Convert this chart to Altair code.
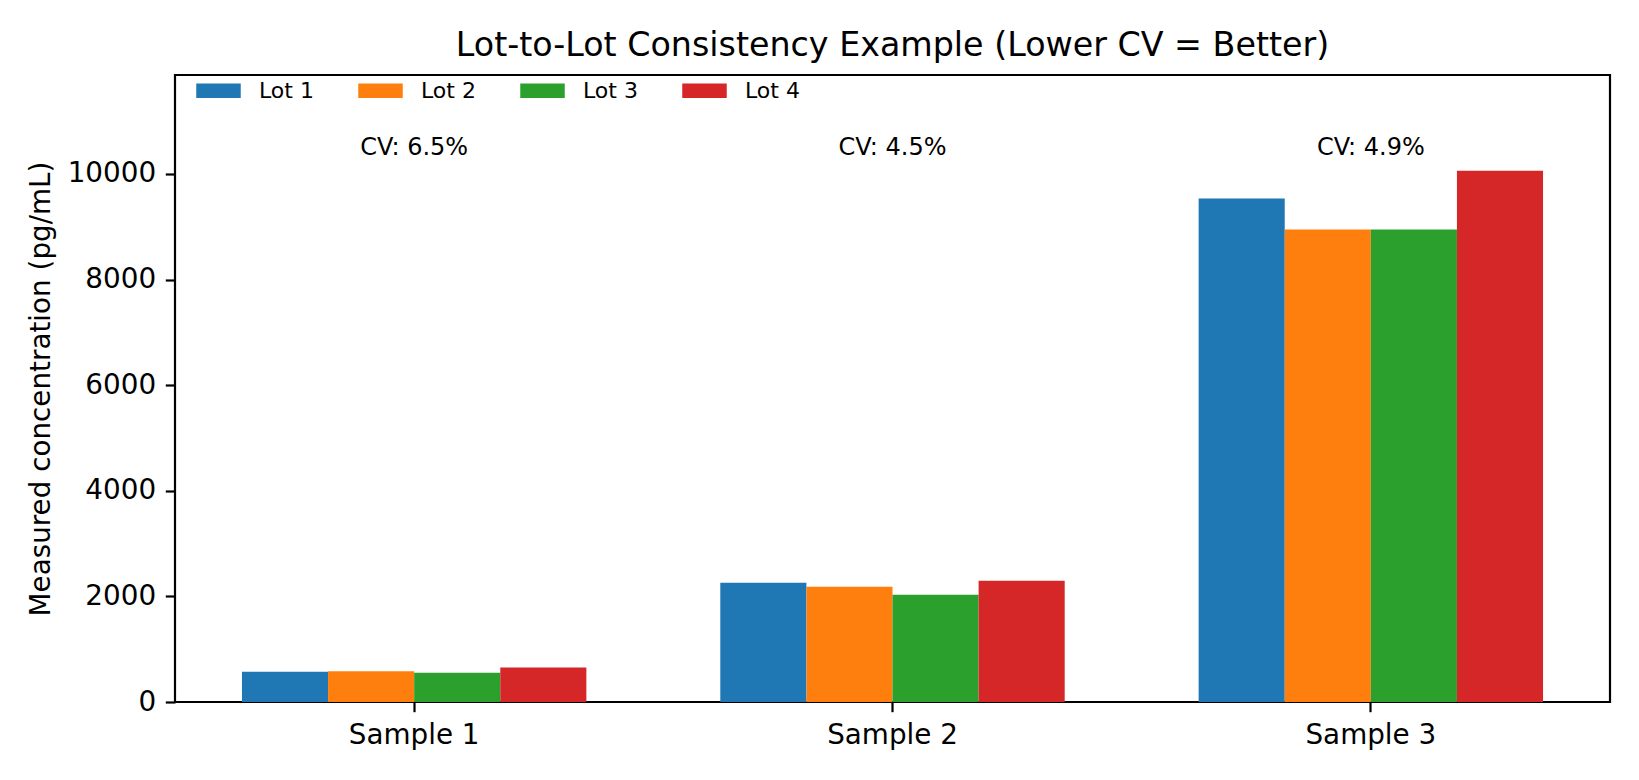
import altair as alt
import pandas as pd

samples = ["Sample 1", "Sample 2", "Sample 3"]
lots = ["Lot 1", "Lot 2", "Lot 3", "Lot 4"]
lot1 = [571, 2258, 9533]
lot2 = [582, 2183, 8947]
lot3 = [552, 2031, 8947]
lot4 = [652, 2296, 10062]
cv_labels = ["CV: 6.5%", "CV: 4.5%", "CV: 4.9%"]
colors = ["#1f77b4", "#ff7f0e", "#2ca02c", "#d62728"]

rows = []
for lot, vals in zip(lots, [lot1, lot2, lot3, lot4]):
    for s, v in zip(samples, vals):
        rows.append({"Sample": s, "Lot": lot, "Value": v})
df = pd.DataFrame(rows)
cv_df = pd.DataFrame({"Sample": samples, "CV": cv_labels})

all_vals = lot1 + lot2 + lot3 + lot4
ymax = max(all_vals)
FONT = "DejaVu Sans"

x_enc = alt.X(
    "Sample:N",
    sort=samples,
    title=None,
    scale=alt.Scale(paddingInner=0.28, paddingOuter=0.14),
    axis=alt.Axis(labelAngle=0, labelFontSize=27.8, labelColor="black", labelFont=FONT,
                  tickColor="black", tickWidth=2.2, tickSize=9.7, labelPadding=9.7,
                  domain=False, grid=False),
)
y_scale = alt.Scale(domain=[0, ymax * 1.18], nice=False, zero=True)

bars = alt.Chart(df).mark_bar(cornerRadius=0).encode(
    x=x_enc,
    xOffset=alt.XOffset("Lot:N", sort=lots, scale=alt.Scale(paddingInner=0, paddingOuter=0)),
    y=alt.Y("Value:Q", scale=y_scale, title="Measured concentration (pg/mL)",
            axis=alt.Axis(values=[0, 2000, 4000, 6000, 8000, 10000], format="d",
                          labelFontSize=27.8, labelColor="black", labelFont=FONT,
                          titleFontSize=27.8, titleFont=FONT, titleFontWeight="normal",
                          titleColor="black", titlePadding=12,
                          tickColor="black", tickWidth=2.2, tickSize=9.7, labelPadding=9.7,
                          domain=False, grid=False)),
    color=alt.Color("Lot:N", sort=lots, scale=alt.Scale(domain=lots, range=colors),
                    legend=alt.Legend(
                        title=None, orient="none", legendX=21, legendY=-7,
                        direction="horizontal", columns=4,
                        symbolType="M-1,-0.33L1,-0.33L1,0.33L-1,0.33Z",
                        symbolSize=1980, symbolStrokeWidth=0,
                        labelFontSize=22, labelFont=FONT, labelColor="black",
                        labelOffset=18, columnPadding=44, padding=0)),
)

texts = alt.Chart(cv_df).mark_text(
    fontSize=24, font=FONT, color="black", baseline="alphabetic", align="center"
).encode(
    x=alt.X("Sample:N", sort=samples),
    y=alt.Y(datum=ymax * 1.03, scale=y_scale),
    text="CV:N",
)

chart = alt.layer(bars, texts).properties(
    width=1435,
    height=627,
    background="white",
    autosize=alt.AutoSizeParams(type="none"),
    padding={"left": 167, "top": 67, "right": 20, "bottom": 60},
    title=alt.Title("Lot-to-Lot Consistency Example (Lower CV = Better)",
                    fontSize=33.3, font=FONT, fontWeight="normal", color="black",
                    anchor="middle", baseline="alphabetic", offset=16, dy=37),
).configure_view(
    stroke="black", strokeWidth=2.2
)

chart.save("out.html", embed_options={"renderer": "svg", "actions": False})
